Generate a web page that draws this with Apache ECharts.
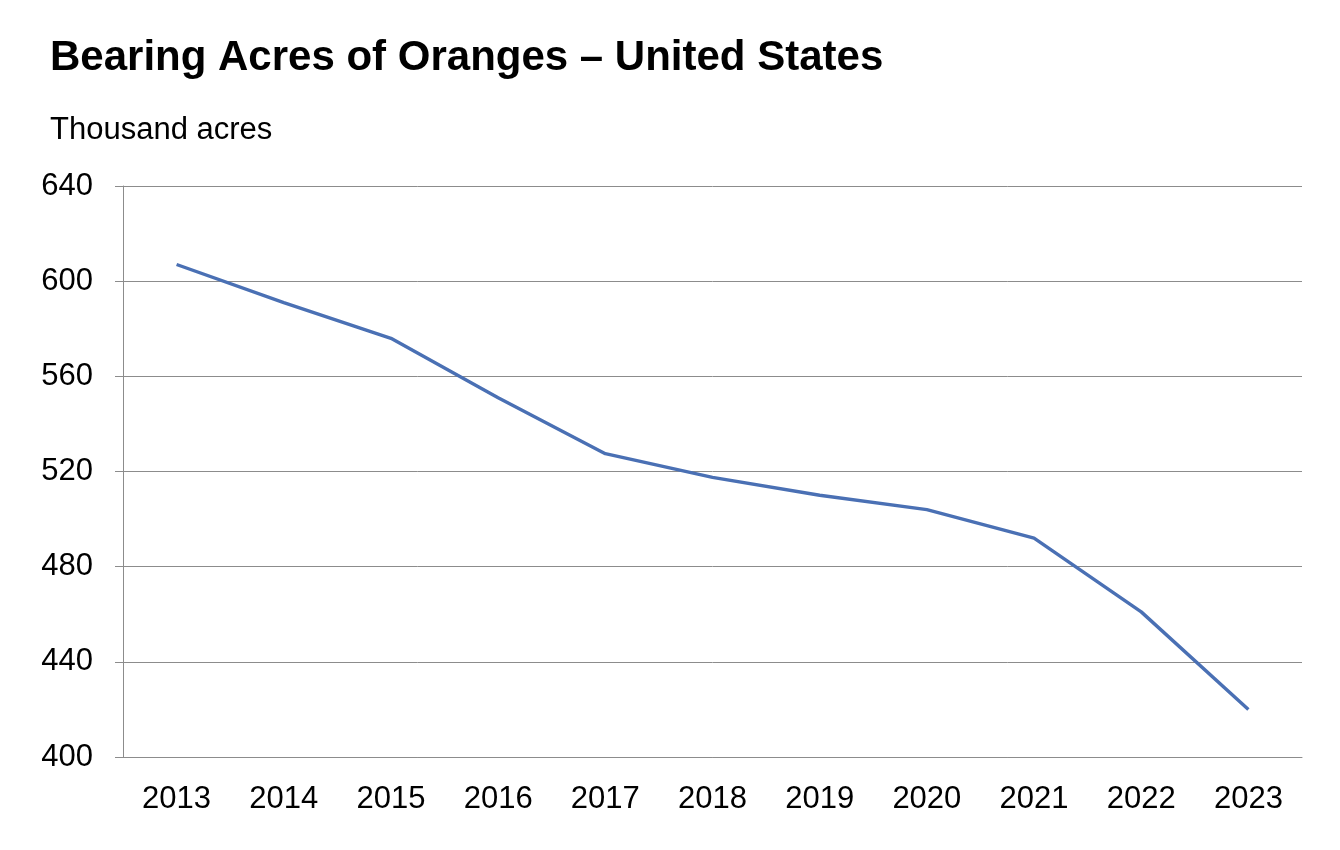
<!DOCTYPE html>
<html>
<head>
<meta charset="utf-8">
<script src="https://cdn.jsdelivr.net/npm/echarts@6/dist/echarts.min.js"></script>
<style>
  html, body { margin: 0; padding: 0; background: #fff; }
  #main-echart { width: 1340px; height: 850px; }
</style>
</head>
<body>
<div id="main-echart"></div>
<script>
// data
const years = ['2013', '2014', '2015', '2016', '2017', '2018', '2019', '2020', '2021', '2022', '2023'];
const acres = [607, 591, 576, 551, 527.5, 517.5, 510, 504, 492, 461, 420];

try {
	let myChart = echarts.init(document.getElementById('main-echart'));
	const font = 'Liberation Sans, Arial, sans-serif';

	let option = {
		animation: false,
		title: [{
			text: 'Bearing Acres of Oranges \u2013 United States',
			left: 45,
			top: 32,
			textStyle: { fontFamily: font, fontSize: 42, fontWeight: 'bold', color: '#000' }
		}, {
			text: 'Thousand acres',
			left: 45,
			top: 110,
			textStyle: { fontFamily: font, fontSize: 31, fontWeight: 'normal', color: '#000' }
		}],
		grid: { left: 123, right: 38, top: 186, bottom: 93, containLabel: false },
		xAxis: {
			type: 'category',
			data: years,
			boundaryGap: true,
			axisLine: { lineStyle: { color: '#8c8c8c', width: 1 } },
			axisTick: { alignWithLabel: true, length: 8, lineStyle: { color: '#8c8c8c' } },
			axisLabel: { fontFamily: font, fontSize: 31, color: '#000', margin: 27 }
		},
		yAxis: {
			type: 'value',
			min: 400,
			max: 640,
			interval: 40,
			axisLine: { show: true, lineStyle: { color: '#8c8c8c', width: 1 } },
			axisTick: { show: true, length: 8, lineStyle: { color: '#8c8c8c' } },
			axisLabel: { fontFamily: font, fontSize: 31, color: '#000', margin: 30 },
			splitLine: { lineStyle: { color: '#8c8c8c', width: 1 } }
		},
		series: [{
			type: 'line',
			data: acres,
			symbol: 'none',
			lineStyle: { color: '#4a70b4', width: 3.4 }
		}]
	};

	myChart.setOption(option);
} catch (e) {
	console.log(e);
}
</script>
</body>
</html>
